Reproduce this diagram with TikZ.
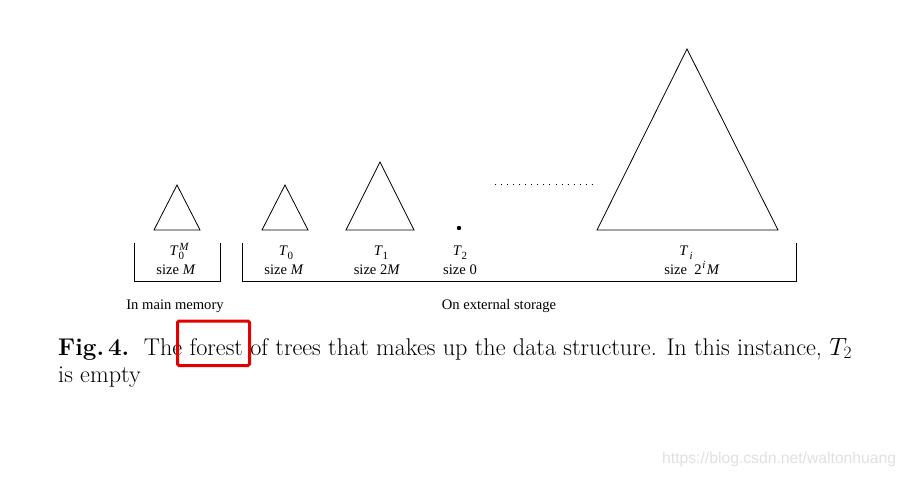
\documentclass[tikz,border=0pt]{standalone}
\usepackage{fontspec}
\newfontfamily\tms{Liberation Serif}
\newfontfamily\arl{Liberation Sans}
\newcommand\lbl{\tms\fontsize{14.6}{16}\selectfont}
\newcommand\subs[1]{\raisebox{-0.45ex}{\fontsize{11}{12}\selectfont #1}}
\newcommand\sups[1]{\raisebox{0.75ex}{\fontsize{11}{12}\selectfont #1}}
\begin{document}
\begin{tikzpicture}[x=1pt,y=-1pt,
  tree/.style={draw=black, line width=0.8pt, line join=miter},
  brk/.style={draw=black, line width=0.9pt},
  lab/.style={font=\lbl, inner sep=0pt, anchor=base},
  captext/.style={font=\fontsize{24.2}{27}\selectfont, inner sep=0pt, anchor=base west, align=left}]
\useasboundingbox (0,0) rectangle (907,478);
% trees
\draw[tree] (177,185) -- (200,230) -- (154,230) -- cycle;
\draw[tree] (285,185) -- (308,230) -- (262,230) -- cycle;
\draw[tree] (380,162) -- (414,230) -- (346,230) -- cycle;
\draw[tree] (687,49) -- (778,230) -- (597,230) -- cycle;
\fill (459,228) circle (2.2);
\draw[line width=1pt, dash pattern=on 0.9pt off 5.15pt] (495,185) -- (593,185);
% brackets
\draw[brk] (134,243) -- (134,281) -- (220,281) -- (220,243);
\draw[brk] (242,243) -- (242,281) -- (796,281) -- (796,243);
% labels
\node[lab] (t0m) at (179,256) {\textit{T}\raisebox{-0.5ex}{\fontsize{11}{12}\selectfont 0}\kern-0.33em\raisebox{0.75ex}{\fontsize{11}{12}\selectfont\itshape M}};
\node[lab] (s0m) at (176,274) {size \textit{M}};
\node[lab] (t0) at (286,256) {\textit{T}\subs{0}};
\node[lab] (s0) at (284,274) {size \textit{M}};
\node[lab] (t1) at (381,256) {\textit{T}\subs{1}};
\node[lab] (s1) at (377,274) {size 2\textit{M}};
\node[lab] (t2) at (460,256) {\textit{T}\subs{2}};
\node[lab] (s2) at (460,274) {size 0};
\node[lab] (ti) at (686,256) {\textit{T}\kern0.1em\subs{\textit{i}}};
\node[lab] (si) at (692,274) {size\ \ 2\kern0.05em\sups{\textit{i}}\kern0.1em\textit{M}};
\node[lab] (mm) at (175,309) {In main memory};
\node[lab] (es) at (499,309) {On external storage};
% caption
\node[captext] (caption) at (58,382) {\textbf{Fig.\,4.}\ \ The forest of trees that makes up the data structure. In this instance, $T_2$\\is empty};
\draw[red!90!black, line width=3pt, rounded corners=1.5pt] (177.5,321) rectangle (249.5,365.5);
% watermark
\node[font=\arl\fontsize{15.7}{17}\selectfont, text=black!12, inner sep=0pt, anchor=base west] (wm) at (662,463) {https://blog.csdn.net/waltonhuang};
\end{tikzpicture}
\end{document}
